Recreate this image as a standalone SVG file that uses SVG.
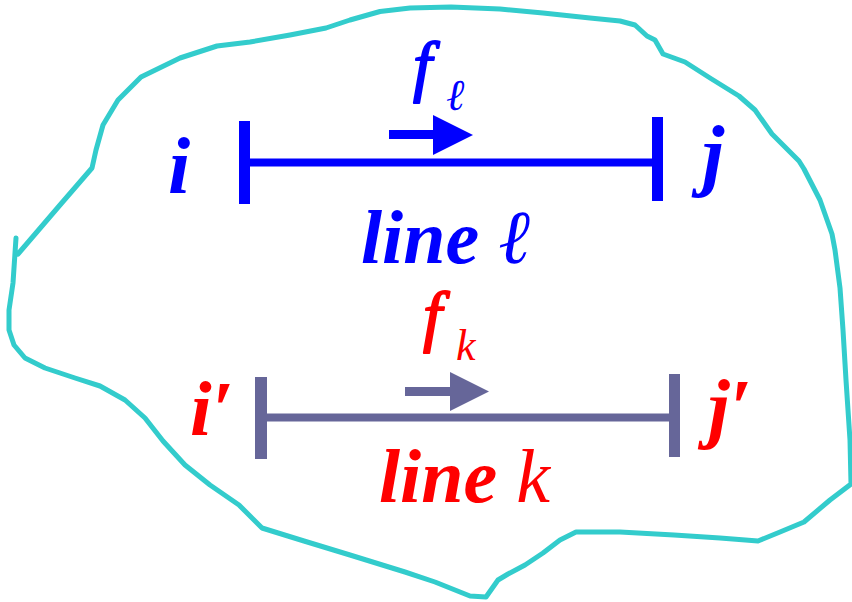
<svg xmlns="http://www.w3.org/2000/svg" width="852" height="602" viewBox="0 0 852 602">
<style>
.t{font-family:"Liberation Serif","Times New Roman",serif;font-style:italic}
.b{font-weight:bold}
.blue{fill:#0000FF}
.red{fill:#FF0000}
.fb{stroke-width:1.8;stroke-linejoin:round}
</style>
<rect width="852" height="602" fill="#FFFFFF"/>
<g id="region">
<path d="M16,238 L13,283 L9,310 L9,330 L14,345 L25,358 L45,368 L75,378 L100,386 L125,400 L145,418 L163,441 L185,465 L210,485 L239,505 L262,528 L304,541 L350,555 L405,572 L435,582 L470,596 L486,597 L498,580 L508,574 L525,565 L543,553 L560,540 L576,532 L620,532 L674,535 L720,538 L758,541 L780,532 L804,522 L830,500 L851,484 L850,440 L846,380 L843,330 L840,288 L835,250 L832,234 L820,200 L804,169 L799,161 L790,152 L772,134 L755,110 L739,96 L710,78 L685,62 L663,54 L655,40 L647,36 L635,25 L620,21 L590,18 L543,13 L500,9 L451,7 L410,8 L380,11.5 L350,20 L326,28 L290,35 L250,42 L217,46 L180,58 L141,77 L118,100 L103,125 L96,150 L92,168 L60,205 L18,254" fill="none" stroke="#33CCCC" stroke-width="5" stroke-linejoin="round" stroke-linecap="round"/>
</g>
<g id="connectors">
<g id="line-l" stroke="#0000FF" fill="none">
<line x1="245" y1="162.5" x2="657" y2="162.5" stroke-width="8"/>
<line x1="244.5" y1="121" x2="244.5" y2="204" stroke-width="11"/>
<line x1="657.5" y1="117" x2="657.5" y2="201" stroke-width="11"/>
<line x1="389" y1="134.5" x2="436" y2="134.5" stroke-width="9"/>
<polygon points="433,115 473,135 433,155" fill="#0000FF" stroke="none"/>
</g>
<g id="line-k" stroke="#666699" fill="none">
<line x1="261" y1="417.5" x2="674" y2="417.5" stroke-width="8"/>
<line x1="261" y1="377" x2="261" y2="459" stroke-width="12"/>
<line x1="674.5" y1="374" x2="674.5" y2="457" stroke-width="11"/>
<line x1="405" y1="391.5" x2="453" y2="391.5" stroke-width="9"/>
<polygon points="450,372 489,391.5 450,411" fill="#666699" stroke="none"/>
</g>
</g>
<g id="node-i"><text class="t b blue" x="168" y="193" font-size="80">i</text></g>
<g id="node-j"><text class="t b blue" x="702" y="181" font-size="80">j</text></g>
<g id="label-fl"><text class="t fb blue" x="413" y="89" font-size="68" stroke="#0000FF">f</text><text class="t blue" x="446" y="110" font-size="44">ℓ</text></g>
<g id="label-line-l"><text class="t blue" x="361" y="263" font-size="76"><tspan class="b">line </tspan>ℓ</text></g>
<g id="node-i2"><text class="t b red" x="190" y="435" font-size="78">i′</text></g>
<g id="node-j2"><text class="t b red" x="708" y="433" font-size="78">j′</text></g>
<g id="label-fk"><text class="t fb red" x="423" y="339" font-size="68" stroke="#FF0000">f</text><text class="t red" x="456" y="360" font-size="44">k</text></g>
<g id="label-line-k"><text class="t red" x="379" y="502" font-size="76"><tspan class="b">line </tspan>k</text></g>
</svg>
